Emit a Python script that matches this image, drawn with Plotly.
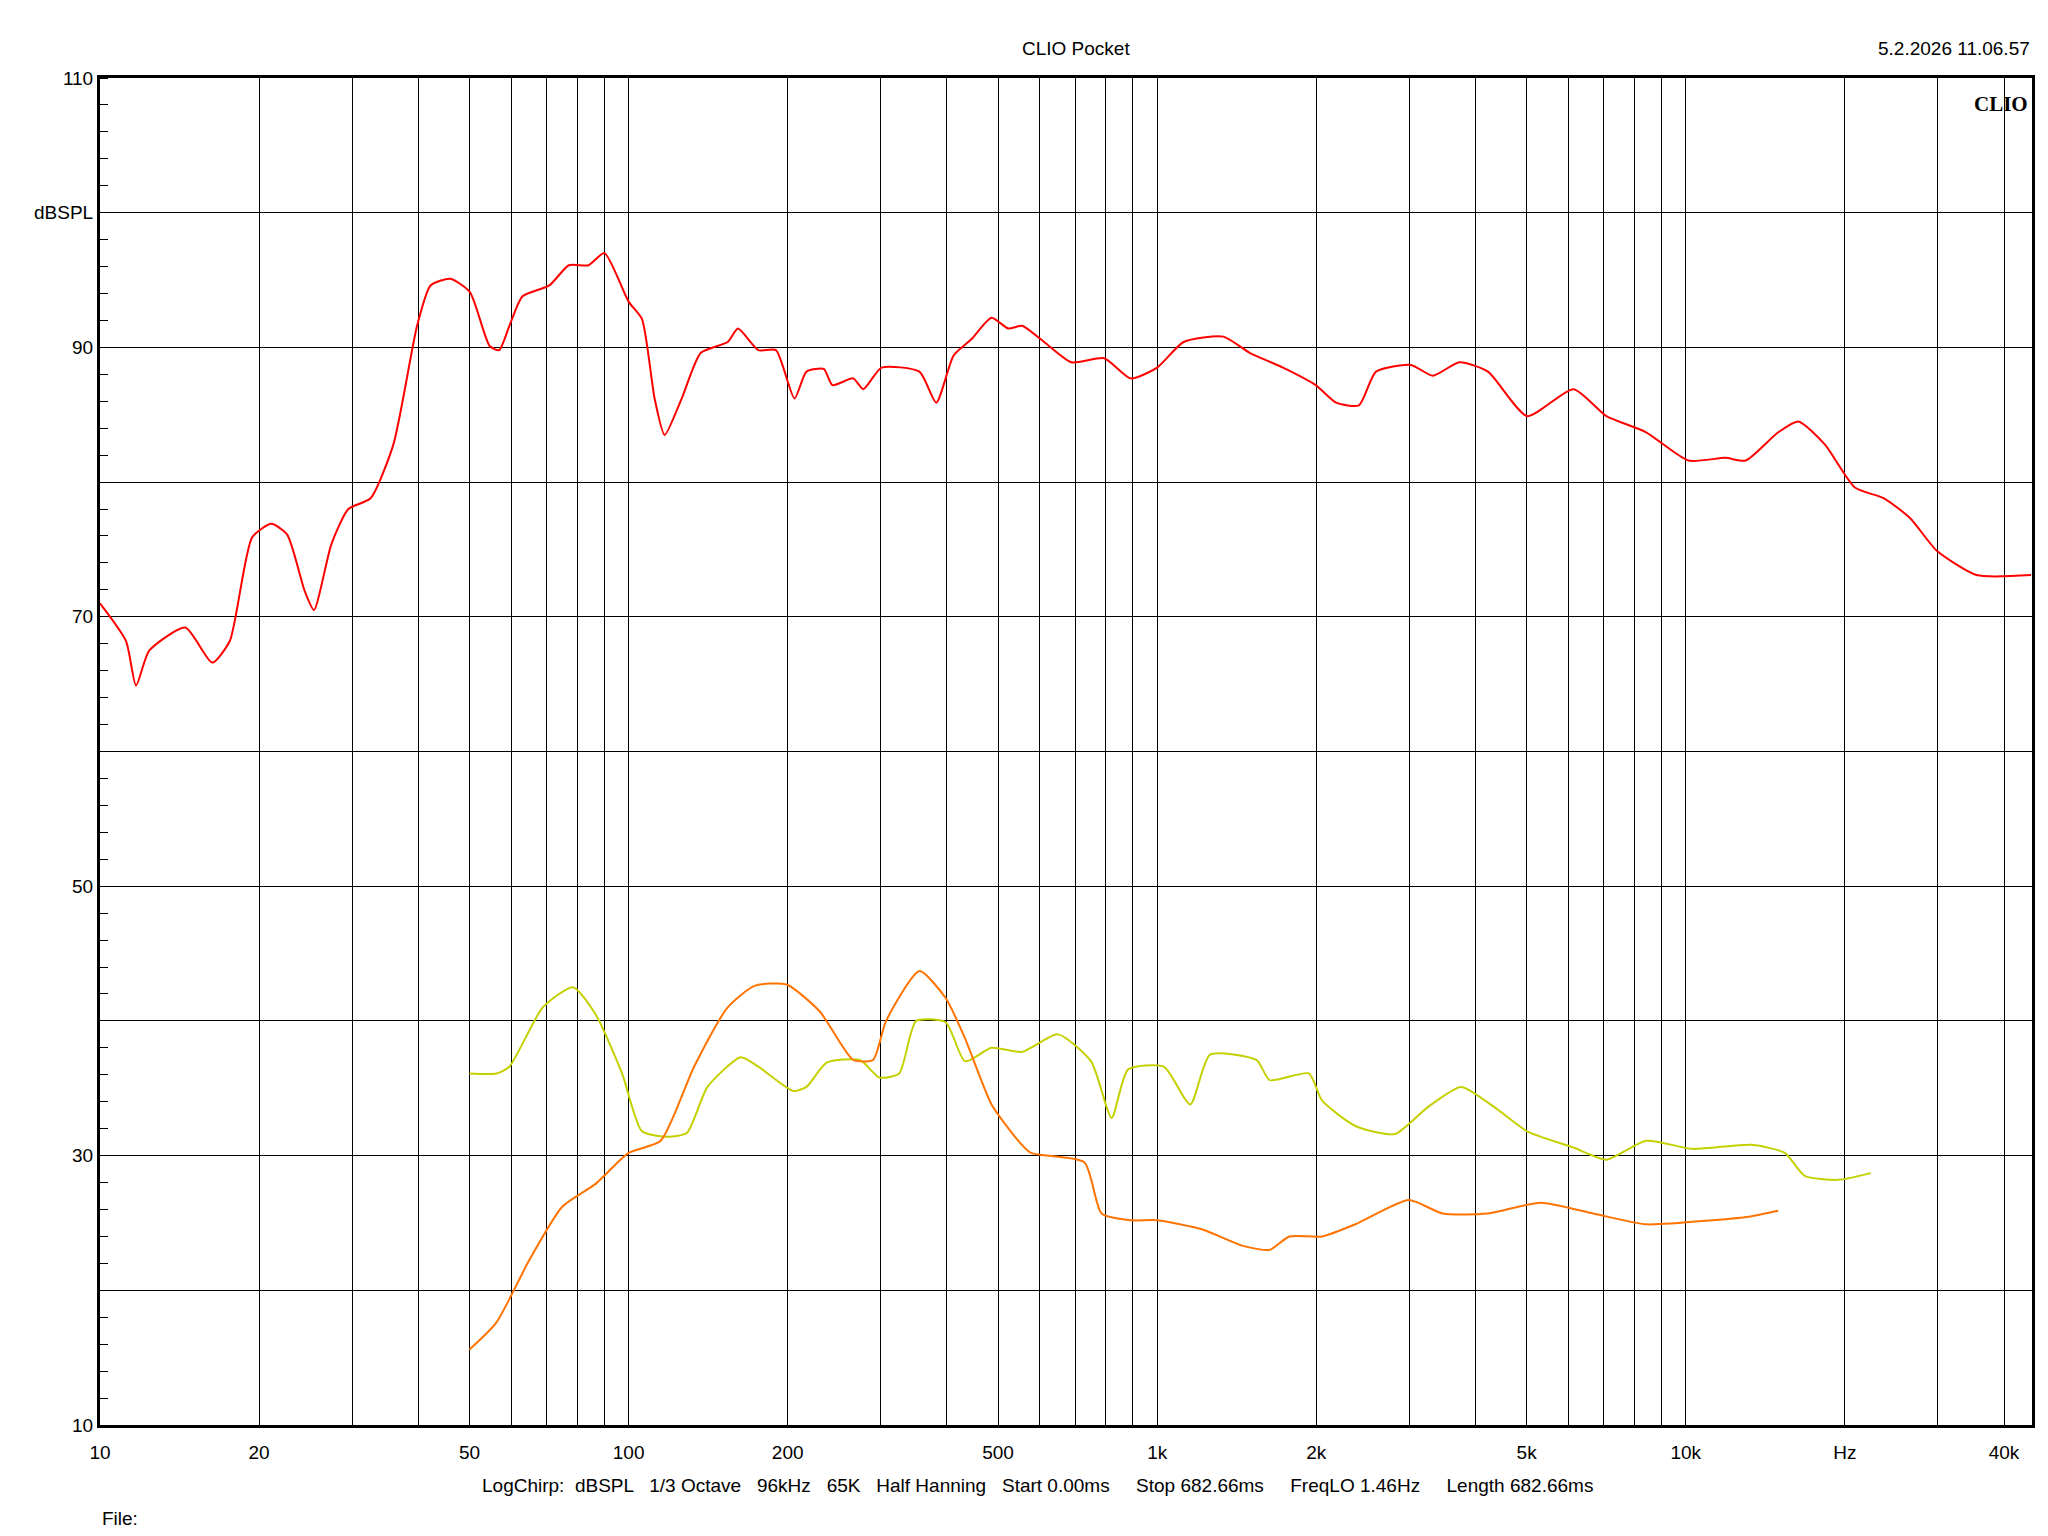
import plotly.graph_objects as go

# Frequency response data
red_f = [10, 11.2, 11.7, 12.4, 14.5, 16.3, 17.6, 19.4, 21.1, 22.6, 24.4, 25.4, 27.4, 29.5, 32.5,
         35.9, 39.8, 42.2, 46, 50.1, 54.6, 56.9, 59.5, 63, 70.8, 77.1, 84, 90, 100, 106, 112, 117,
         126, 137, 154, 161, 176, 190, 206, 217, 234, 243, 266, 278, 301, 355, 382, 412, 445, 486,
         523, 555, 611, 688, 794, 891, 1000, 1122, 1334, 1496, 1730, 1995, 2181, 2407, 2594, 3020,
         3322, 3732, 4224, 5012, 6131, 7079, 8414, 10115, 11885, 12982, 14962, 16331, 18323, 20893,
         23714, 26607, 29854, 35481, 45000]
red_db = [71, 68.2, 64.9, 67.5, 69.2, 66.6, 68.2, 75.9, 76.9, 76.1, 71.9, 70.5, 75.4, 78, 78.8,
          82.8, 91.6, 94.6, 95.1, 94.1, 90.1, 89.8, 91.6, 93.8, 94.6, 96.1, 96.1, 97.0, 93.4, 92.1,
          86.2, 83.5, 86.2, 89.6, 90.4, 91.4, 89.8, 89.8, 86.2, 88.2, 88.4, 87.2, 87.7, 86.9, 88.5,
          88.2, 85.9, 89.4, 90.6, 92.2, 91.4, 91.6, 90.4, 88.9, 89.2, 87.7, 88.5, 90.4, 90.8, 89.6,
          88.5, 87.2, 85.9, 85.7, 88.2, 88.7, 87.9, 88.9, 88.2, 84.9, 86.9, 84.9, 83.7, 81.6, 81.8,
          81.6, 83.7, 84.5, 82.8, 79.6, 78.8, 77.3, 74.9, 73.1, 73.1]

yel_f = [50, 56.2, 59.5, 68.8, 78.5, 86.6, 97.2, 106, 119, 129, 141, 163, 176, 205, 217, 237, 274,
         298, 325, 350, 398, 433, 486, 555, 649, 750, 820, 881, 1029, 1155, 1259, 1541, 1633, 1936,
         2050, 2371, 2818, 3251, 3758, 4345, 5012, 6131, 7079, 8414, 10292, 13335, 15399, 16788,
         19409, 22387]
yel_db = [36.1, 36.1, 36.6, 41, 42.5, 40.5, 36.1, 31.8, 31.4, 31.7, 35.1, 37.3, 36.6, 34.8, 35.1,
          36.9, 37.1, 35.8, 36.1, 40, 39.9, 37, 38, 37.7, 39, 37, 32.8, 36.4, 36.6, 33.8, 37.5, 37.1,
          35.6, 36.1, 34.1, 32.2, 31.6, 33.6, 35.1, 33.6, 31.8, 30.6, 29.7, 31.1, 30.5, 30.8, 30.2,
          28.5, 28.2, 28.7]

ora_f = [50, 56.2, 65, 74.9, 86.6, 100, 115, 133, 154, 173, 199, 230, 266, 290, 307, 355, 398, 433,
         486, 546, 577, 728, 785, 891, 1000, 1222, 1452, 1633, 1778, 2050, 2371, 2992, 3467, 4224,
         5309, 6683, 8414, 11220, 13335, 14962]
ora_db = [15.6, 17.6, 22.3, 26.2, 27.9, 30.2, 31.1, 36.6, 41, 42.6, 42.7, 40.7, 37.1, 37.1, 40,
          43.7, 41.7, 38.7, 33.8, 31.1, 30.2, 29.5, 25.7, 25.2, 25.2, 24.5, 23.3, 23, 24, 24, 24.9,
          26.7, 25.7, 25.7, 26.5, 25.7, 24.9, 25.2, 25.5, 25.9]

x_grid = [10, 20, 30, 40, 50, 60, 70, 80, 90, 100, 200, 300, 400, 500, 600, 700, 800, 900, 1000,
          2000, 3000, 4000, 5000, 6000, 7000, 8000, 9000, 10000, 20000, 30000, 40000]
x_labels = {10: "10", 20: "20", 50: "50", 100: "100", 200: "200", 500: "500", 1000: "1k",
            2000: "2k", 5000: "5k", 10000: "10k", 20000: "Hz", 40000: "40k"}
y_grid = [10, 20, 30, 40, 50, 60, 70, 80, 90, 100, 110]
y_labels = {10: "10", 30: "30", 50: "50", 70: "70", 90: "90", 100: "dBSPL", 110: "110"}

fig = go.Figure()
for f, db, col in [(red_f, red_db, "#ff0000"), (yel_f, yel_db, "#c4d000"), (ora_f, ora_db, "#ff7300")]:
    fig.add_trace(go.Scatter(x=f, y=db, mode="lines", line=dict(color=col, width=2, shape="spline", smoothing=0.6),
                             showlegend=False))

font = dict(family="Liberation Sans, Arial", size=19, color="black")
fig.update_layout(
    width=2048, height=1536, plot_bgcolor="white", paper_bgcolor="white",
    margin=dict(l=92, r=24, t=70, b=119), font=font,
    xaxis=dict(type="log", range=[1, 4.655], tickvals=x_grid,
               ticktext=[x_labels.get(v, "") for v in x_grid],
               showgrid=True, gridcolor="black", gridwidth=1, ticks="", zeroline=False,
               showline=True, linecolor="black", linewidth=3, mirror=True, ticklabelstandoff=8),
    yaxis=dict(range=[10, 110], tickvals=y_grid, ticktext=[y_labels.get(v, "") for v in y_grid],
               showgrid=True, gridcolor="black", gridwidth=1, zeroline=False,
               showline=True, linecolor="black", linewidth=3, mirror=True,
               ticks="", minor=dict(dtick=2, ticks="inside", ticklen=8, tickcolor="black", showgrid=False)),
)
fig.add_annotation(text="CLIO Pocket", x=0.505, y=1.0, xref="paper", yref="paper", yshift=42,
                   showarrow=False, xanchor="center")
fig.add_annotation(text="5.2.2026 11.06.57", x=1.0, y=1.0, xref="paper", yref="paper", yshift=42,
                   showarrow=False, xanchor="right")
fig.add_annotation(text="<b>CLIO</b>", x=1.0, y=1.0, xref="paper", yref="paper", xshift=-2, yshift=-12,
                   showarrow=False, xanchor="right", font=dict(family="Liberation Serif", size=21))
fig.add_annotation(text="LogChirp:  dBSPL   1/3 Octave   96kHz   65K   Half Hanning   Start 0.00ms     "
                        "Stop 682.66ms     FreqLO 1.46Hz     Length 682.66ms",
                   x=0.485, y=0, xref="paper", yref="paper", yshift=-73, showarrow=False, xanchor="center")
fig.add_annotation(text="File:", x=0, y=0, xref="paper", yref="paper", yshift=-106, showarrow=False,
                   xanchor="left")
fig.write_html("out.html")
